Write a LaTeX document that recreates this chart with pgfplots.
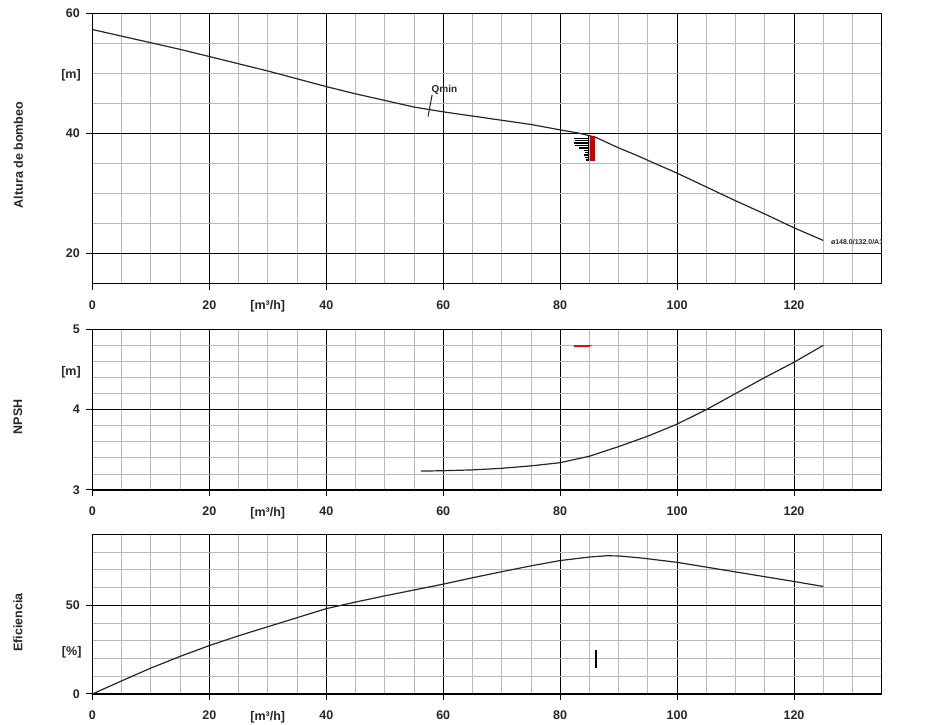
\documentclass[border=0pt]{standalone}
\usepackage{fontspec}
\setmainfont{Liberation Sans}
\usepackage{pgfplots}
\pgfplotsset{compat=1.18}

\pgfplotsset{pump/.style={
  scale only axis, width=789.3pt,
  xmin=0, xmax=135,
  xtick={0,20,...,120}, minor xtick={5,10,...,130},
  grid=both,
  major grid style={black, line width=1pt},
  minor grid style={black!28, line width=0.8pt},
  axis line style={black, line width=1.3pt},
  tick align=outside, xtick pos=bottom, ytick pos=left,
  major tick length=6pt, minor tick length=0pt,
  tick style={black, line width=1pt},
  tick label style={font=\fontsize{12.5}{14}\selectfont\bfseries, text=black!85},
  /pgf/number format/assume math mode=true,
  xticklabel style={yshift=-7.5pt},
  yticklabel style={xshift=-3pt},
  extra x ticks={30}, extra x tick labels={[m³/h]},
  extra x tick style={grid=none, major tick style={draw=none}},
  anchor=south west,
}}

\begin{document}
\begin{tikzpicture}[x=1pt,y=1pt]
\path[use as bounding box] (0,0) rectangle (926,725);

% ---------- top: head ----------
\begin{axis}[pump, at={(92.4pt,441.3pt)}, height=270.4pt,
  ymin=15, ymax=60, ytick={20,40,60}, minor ytick={25,30,35,45,50,55}]
\addplot[black!85, line width=1.2pt, no markers] coordinates {(0,57.3) (5,56.2) (10,55.1) (15,54.0) (20,52.8) (25,51.6)
 (30,50.4) (35,49.1) (40,47.8) (45,46.6) (50,45.5) (55,44.4) (60,43.6) (65,42.9)
 (70,42.2) (75,41.5) (80,40.6) (83,40.1) (86,39.4) (88,38.5) (90,37.6) (93,36.4)
 (96,35.1) (100,33.4) (105,31.1) (110,28.8) (115,26.6) (120,24.3) (125,22.2)};
% Qmin marker
\addplot[black!85, line width=1pt, no markers] coordinates {(58.1,46.4) (57.4,42.8)};
\node[anchor=base west, inner sep=0pt, font=\fontsize{10}{11}\selectfont\bfseries, text=black!85]
  at (axis cs:58.0,46.8) {Qmin};
% operating point marker
\addplot[red!80!black, line width=5pt, no markers] coordinates {(85.5,39.5) (85.5,35.4)};
\addplot[black, line width=1.3pt, no markers] coordinates {(82.3,39.2) (85,39.2)};
\addplot[black, line width=1.3pt, no markers] coordinates {(82.5,38.8) (85,38.8)};
\addplot[black, line width=1.3pt, no markers] coordinates {(82.3,38.4) (85,38.4)};
\addplot[black, line width=1.3pt, no markers] coordinates {(82.5,38.0) (85,38.0)};
\addplot[black, line width=1.3pt, no markers] coordinates {(83.2,37.6) (85,37.6)};
\addplot[black, line width=1.3pt, no markers] coordinates {(84.0,37.2) (85,37.2)};
\addplot[black, line width=1.3pt, no markers] coordinates {(84.2,36.8) (85,36.8)};
\addplot[black, line width=1.3pt, no markers] coordinates {(84.0,36.4) (85,36.4)};
\addplot[black, line width=1.3pt, no markers] coordinates {(84.2,36.0) (85,36.0)};
\addplot[black, line width=1.3pt, no markers] coordinates {(84.4,35.6) (85,35.6)};
\addplot[black, line width=1.3pt, no markers] coordinates {(84.9,39.5) (84.9,35.5)};
\node[anchor=west, inner sep=0pt, font=\fontsize{7}{8}\selectfont\bfseries, text=black!85]
  at (axis cs:126.3,21.9) {ø148.0/132.0/A10};
\end{axis}

% ---------- middle: NPSH ----------
\begin{axis}[pump, at={(92.4pt,235pt)}, height=160.7pt,
  ymin=3, ymax=5, ytick={3,4,5}, minor ytick={3.2,3.4,3.6,3.8,4.2,4.4,4.6,4.8}]
\addplot[black!85, line width=1.2pt, no markers] coordinates {(56.2,3.235) (60,3.24) (65,3.25) (70,3.27) (75,3.30)
 (80,3.34) (85,3.42) (90,3.54) (95,3.67) (100,3.82) (105,4.0) (110,4.20)
 (115,4.40) (120,4.59) (125,4.80)};
\addplot[color=red, line width=2pt, no markers] coordinates {(82.3,4.795) (85.1,4.795)};
\addplot[black!60, line width=1.2pt, no markers] coordinates {(85.1,4.795) (85.5,4.795)};
\end{axis}

% ---------- bottom: efficiency ----------
\begin{axis}[pump, at={(92.4pt,31pt)}, height=159.7pt,
  ymin=0, ymax=90, ytick={0,50}, minor ytick={10,20,30,40,60,70,80}]
\addplot[black!85, line width=1.2pt, no markers] coordinates {(0,0) (5,7.4) (10,14.6) (15,21.2) (20,27.3) (25,32.8)
 (30,37.9) (35,43.0) (40,48.1) (45,51.8) (50,55.3) (55,58.6) (60,61.9)
 (65,65.5) (70,68.9) (75,72.2) (80,75.2) (85,77.2) (88,77.9) (90,77.8)
 (94,76.6) (100,74.2) (105,71.5) (110,68.8) (115,66.1) (120,63.4) (125,60.6)};
\addplot[black, line width=2pt, no markers] coordinates {(86.1,14.4) (86.1,24.6)};
\end{axis}

% ---------- axis titles ----------
\begin{scope}[font=\fontsize{12.5}{14}\selectfont\bfseries, text=black!85]
\node[rotate=90] at (18.5,570) {Altura de bombeo};
\node at (71,650) {[m]};
\node[rotate=90] at (17.7,308) {NPSH};
\node at (71,353) {[m]};
\node[rotate=90] at (18,102.5) {Eficiencia};
\node at (71.7,72.3) {[\%]};
\end{scope}
\end{tikzpicture}
\end{document}
